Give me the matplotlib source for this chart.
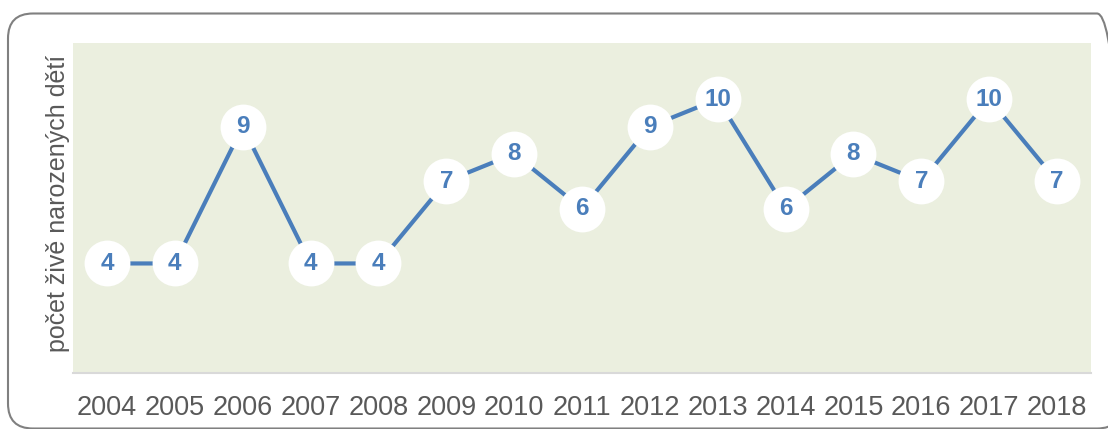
import matplotlib.pyplot as plt
from matplotlib.patches import FancyBboxPatch

# data
years = ['2004', '2005', '2006', '2007', '2008', '2009', '2010', '2011',
         '2012', '2013', '2014', '2015', '2016', '2017', '2018']
births = [4, 4, 9, 4, 4, 7, 8, 6, 9, 10, 6, 8, 7, 10, 7]

plt.rcParams['font.family'] = ['Liberation Sans', 'DejaVu Sans']

fig = plt.figure(figsize=(11.08, 4.29), dpi=100)
ax = fig.add_axes([73 / 1108, 1 - 373 / 429, (1091 - 73) / 1108, (373 - 43) / 429])

# rounded frame around the chart
box = FancyBboxPatch((0.08, 0.005), 11.14, 4.15,
                     boxstyle='round,pad=0,rounding_size=0.25',
                     transform=fig.dpi_scale_trans, facecolor='none',
                     edgecolor='#808080', linewidth=1.5, zorder=0)
fig.patches.append(box)

x = list(range(len(years)))
ax.plot(x, births, color='#4a7ebb', linewidth=3, zorder=2)
ax.scatter(x, births, s=33 ** 2, color='white', zorder=3, linewidths=0)
for xi, v in zip(x, births):
    ax.text(xi, v, str(v), ha='center', va='center', fontsize=17.5,
            fontweight='bold', color='#4a7ebb', zorder=4)

ax.set_facecolor('#ebefdf')
ax.set_xlim(-0.5, len(years) - 0.5)
ax.set_ylim(0, 12.05)
ax.set_xticks(x)
ax.set_xticklabels(years, fontsize=19.5, color='#595959')
ax.tick_params(axis='x', length=0, pad=16)
ax.set_yticks([])
for s in ['top', 'left', 'right']:
    ax.spines[s].set_visible(False)
ax.spines['bottom'].set_color('#d9d9d9')
ax.spines['bottom'].set_linewidth(1.5)

fig.text(58 / 1108, 1 - 203 / 429, 'počet živě narozených dětí', rotation=90,
         ha='center', va='center', fontsize=18, color='#595959')

fig.savefig('out.png', dpi=100)
